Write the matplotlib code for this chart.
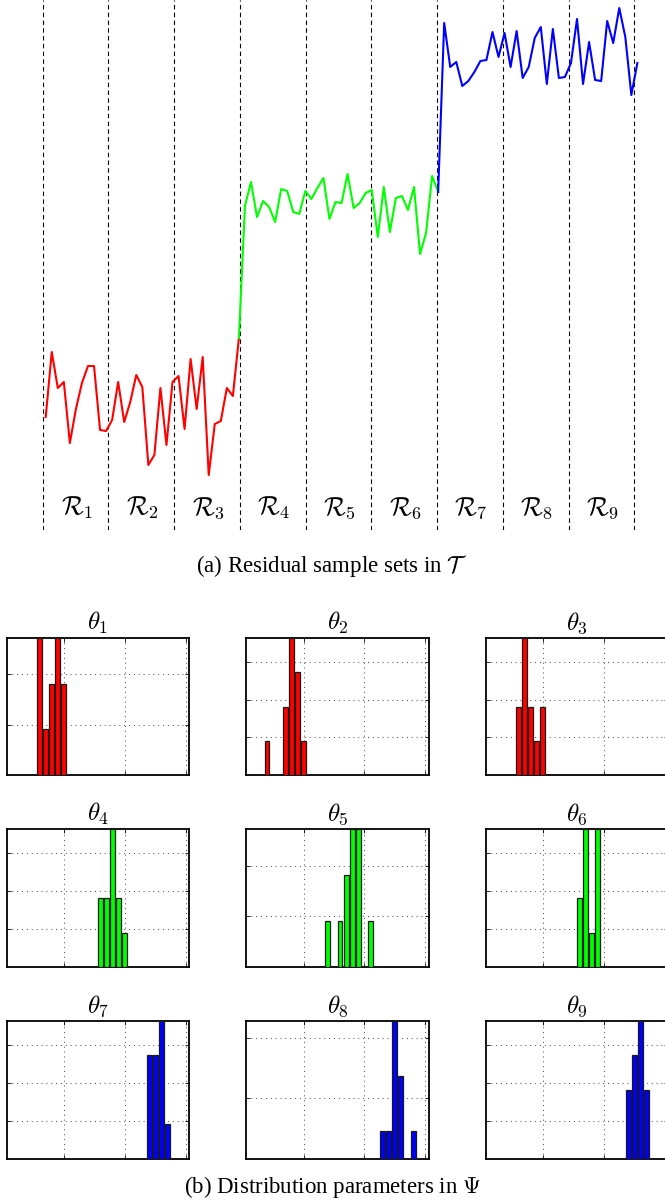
import numpy as np
import matplotlib
matplotlib.use("Agg")
import matplotlib.pyplot as plt

plt.rcParams["mathtext.fontset"] = "cm"
plt.rcParams["font.family"] = ["Liberation Serif", "DejaVu Serif"]

# ---- residual samples, 11 per set, three groups of three sets ----
residual_red = [11.3, 17.8, 14.2, 14.8, 8.7, 12.1, 14.7, 16.4, 16.4, 10.0, 9.9,
                11.0, 14.8, 10.8, 12.8, 15.5, 14.3, 6.5, 7.5, 14.2, 8.5, 14.8,
                15.4, 10.1, 17.1, 12.1, 17.3, 5.5, 10.6, 10.9, 14.2, 13.4, 19.2]
residual_green = [32.4, 34.8, 31.3, 32.9, 32.3, 30.8, 34.1, 33.9, 31.8, 31.6, 33.9,
                  33.1, 34.2, 35.2, 31.1, 32.8, 32.7, 35.6, 32.2, 32.7, 33.7, 34.0,
                  29.3, 34.3, 29.8, 33.2, 33.4, 32.0, 34.3, 27.6, 29.7, 35.4, 33.8]
residual_blue = [50.7, 46.3, 46.8, 44.4, 44.9, 45.8, 46.9, 47.0, 49.8, 47.3, 49.7,
                 46.3, 49.9, 45.2, 46.3, 49.2, 50.3, 44.6, 50.1, 45.2, 45.3, 46.7,
                 51.1, 44.6, 48.8, 45.0, 44.9, 50.9, 48.7, 52.2, 49.3, 43.5, 46.7]
segment_labels = [r"$\mathcal{R}_{%d}$" % k for k in range(1, 10)]

# ---- histograms of the distribution parameters (bin centres, counts) ----
param_titles = [r"$\theta_{%d}$" % k for k in range(1, 10)]
hist_centers = [
    [0.6, 0.7, 0.8, 0.9, 1.0],
    [0.4, 0.5, 0.6, 0.7, 0.8, 0.9, 1.0],
    [0.6, 0.7, 0.8, 0.9, 1.0],
    [1.6, 1.7, 1.8, 1.9, 2.0],
    [1.4, 1.5, 1.6, 1.7, 1.8, 1.9, 2.0, 2.1],
    [1.6, 1.7, 1.8, 1.9],
    [2.4, 2.5, 2.6, 2.7],
    [2.3, 2.4, 2.5, 2.6, 2.7, 2.8],
    [2.4, 2.5, 2.6, 2.7],
]
hist_counts = [
    [3, 1, 2, 3, 2],
    [1, 0, 0, 2, 4, 3, 1],
    [2, 4, 2, 1, 2],
    [2, 2, 4, 2, 1],
    [1, 0, 1, 2, 3, 3, 0, 1],
    [2, 4, 1, 4],
    [3, 3, 4, 1],
    [1, 1, 5, 3, 0, 1],
    [2, 3, 4, 2],
]
bin_width = 0.1
group_colors = ["#ff0000", "#00ff00", "#0000ff"]

W, H = 665, 1201
fig = plt.figure(figsize=(W / 100, H / 100), dpi=100)


def px_axes(left, top, right, bottom):
    return fig.add_axes([left / W, 1 - bottom / H, (right - left) / W, (bottom - top) / H])


# ---- (a) residual sample sets ----
n = len(residual_red) + len(residual_green) + len(residual_blue)
ax = px_axes(42.7, 0, 640.4, 530)
x = np.arange(1, n + 1)
n_r, n_g = len(residual_red), len(residual_green)
ax.plot(x[:n_r], residual_red, color=group_colors[0], lw=1.5)
ax.plot(x[n_r - 1:n_r + n_g], [residual_red[-1]] + residual_green,
        color=group_colors[1], lw=1.5)
ax.plot(x[n_r + n_g - 1:], [residual_green[-1]] + residual_blue,
        color=group_colors[2], lw=1.5)
bounds = np.linspace(0.5, n - 0.5, 10)
for b in bounds:
    ax.axvline(b, color="black", lw=0.8, ls=(0, (4, 3)), zorder=0)
for k, lab in enumerate(segment_labels):
    ax.text((bounds[k] + bounds[k + 1]) / 2 + 0.2, 0.042, lab,
            transform=ax.get_xaxis_transform(),
            ha="center", va="center", fontsize=18.5)
ax.set_xlim(0.5, n + 0.5)
ax.set_ylim(0, 53)
ax.axis("off")
fig.text(0.5, 1 - 566 / H, r"(a) Residual sample sets in $\mathcal{T}$",
         ha="center", va="center", fontsize=16.5)

# ---- (b) distribution parameters ----
lefts = [6.7, 246.3, 485.7]
tops = [637.7, 829.3, 1021.0]
pw, ph = 182.6, 137.6
for i in range(9):
    r, c = divmod(i, 3)
    ax = px_axes(lefts[c], tops[r], lefts[c] + pw, tops[r] + ph)
    counts = np.array(hist_counts[i], dtype=float)
    density = counts / (counts.sum() * bin_width)
    ax.bar(hist_centers[i], density, width=0.8 * bin_width, color=group_colors[i // 3],
           edgecolor="#1a1a1a", lw=0.9, zorder=3)
    top = density.max()
    ax.set_xlim(0.06, 3.06)
    ax.set_ylim(0, top)
    step = 1 if top < 4 else 2
    ax.set_xticks([1, 2, 3])
    ax.set_yticks(np.arange(step, top, step))
    ax.grid(True, ls=(0, (1, 4)), color="#444444", lw=0.7)
    ax.tick_params(direction="in", length=3, width=0.6, top=True, right=True,
                   labelbottom=False, labelleft=False)
    for s in ax.spines.values():
        s.set_linewidth(1.3)
    ax.set_title(param_titles[i], fontsize=18, pad=6)

fig.text(0.5, 1 - 1187 / H, r"(b) Distribution parameters in $\Psi$",
         ha="center", va="center", fontsize=16.5)

fig.savefig("out.png", dpi=100)
